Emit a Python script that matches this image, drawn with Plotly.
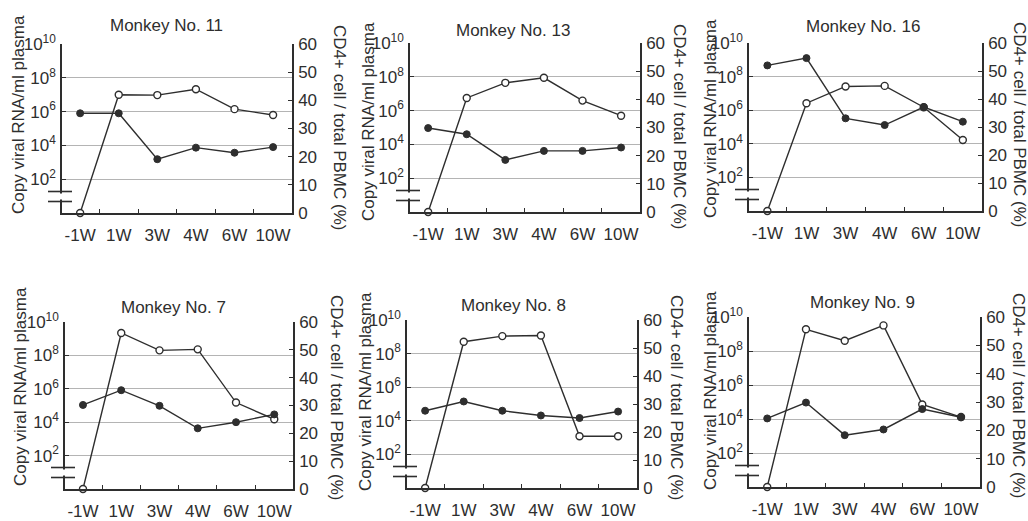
import plotly.graph_objects as go

W, H = 1028, 521

weeks = ["-1W", "1W", "3W", "4W", "6W", "10W"]
monkeys = ["Monkey No. 11", "Monkey No. 13", "Monkey No. 16",
           "Monkey No. 7", "Monkey No. 8", "Monkey No. 9"]

# viral RNA copies / ml plasma (open circles, left log axis); -1W below detection
m11_rna = [1, 1.0e7, 9.5e6, 2.1e7, 1.4e6, 6.3e5]
m13_rna = [1, 5.6e6, 4.4e7, 8.7e7, 3.9e6, 5.0e5]
m16_rna = [1, 2.6e6, 2.6e7, 2.8e7, 1.5e6, 1.7e4]
m7_rna = [1, 2.2e9, 2.0e8, 2.3e8, 1.5e5, 1.5e4]
m8_rna = [1, 5.1e8, 1.1e9, 1.2e9, 1.2e3, 1.2e3]
m9_rna = [1, 1.9e9, 4.0e8, 3.2e9, 7.2e4, 1.3e4]

# CD4+ cell / total PBMC (%) (filled circles, right axis)
m11_cd4 = [35.4, 35.4, 19.1, 23.2, 21.4, 23.4]
m13_cd4 = [29.8, 27.6, 18.5, 21.7, 21.7, 22.9]
m16_cd4 = [52.0, 54.6, 33.1, 30.7, 37.1, 31.9]
m7_cd4 = [30.2, 35.5, 29.9, 21.8, 24.0, 26.8]
m8_cd4 = [27.6, 30.9, 27.6, 25.9, 25.0, 27.3]
m9_cd4 = [24.2, 29.8, 18.3, 20.3, 27.5, 24.6]

rna_list = [m11_rna, m13_rna, m16_rna, m7_rna, m8_rna, m9_rna]
cd4_list = [m11_cd4, m13_cd4, m16_cd4, m7_cd4, m8_cd4, m9_cd4]

log_ticks = [1e2, 1e4, 1e6, 1e8, 1e10]
log_ticktext = ["10<sup>2</sup>", "10<sup>4</sup>", "10<sup>6</sup>",
                "10<sup>8</sup>", "10<sup>10</sup>"]
pct_ticks = [0, 10, 20, 30, 40, 50, 60]

# plot-area boxes in pixels (x0, x1, ytop, ybottom)
boxes = [(62, 292, 44, 213), (410, 640, 43, 212), (749, 982, 43, 211),
         (65, 293, 322, 489), (407, 637, 320, 488), (749, 980, 317, 487)]
title_pos = [(166, 25), (513, 30), (863, 27), (173, 307), (513, 305), (862, 302)]
ltitle_pos = [(18, 115), (368, 122), (710, 119), (20, 387), (365, 392), (710, 391)]
rtitle_pos = [(340, 127), (680, 126), (1019, 124), (337, 397), (677, 397), (1019, 395)]

INK = "#2e2e2e"
GRID = "#b4b4b4"
FONT = "Liberation Sans, Arial, sans-serif"
FS = 17

def px(x):
    return x / W

def py(y):
    return 1 - y / H

fig = go.Figure()
layout = {}
annotations = []
shapes = []

for i in range(6):
    x0, x1, yt, yb = boxes[i]
    xa = "x" if i == 0 else f"x{i+1}"
    xkey = "xaxis" if i == 0 else f"xaxis{i+1}"
    li = 2 * i + 1
    ri = 2 * i + 2
    ylname = "y" if li == 1 else f"y{li}"
    yrname = f"y{ri}"
    ylkey = "yaxis" if li == 1 else f"yaxis{li}"
    yrkey = f"yaxis{ri}"

    fig.add_trace(go.Scatter(
        x=weeks, y=rna_list[i], xaxis=xa, yaxis=ylname, mode="lines+markers",
        line=dict(color=INK, width=1.4),
        marker=dict(symbol="circle", size=7, color="white",
                    line=dict(color=INK, width=1.4)),
        cliponaxis=False, showlegend=False, name="viral RNA"))
    fig.add_trace(go.Scatter(
        x=weeks, y=cd4_list[i], xaxis=xa, yaxis=yrname, mode="lines+markers",
        line=dict(color=INK, width=1.4),
        marker=dict(symbol="circle", size=7, color=INK,
                    line=dict(color=INK, width=1)),
        cliponaxis=False, showlegend=False, name="CD4+"))

    layout[xkey] = dict(
        domain=[px(x0), px(x1)], anchor=ylname, type="category",
        categoryorder="array", categoryarray=weeks, range=[-0.47, 5.49],
        tickson="boundaries", ticks="inside", ticklen=4, tickcolor=INK,
        showline=True, linecolor=INK, linewidth=1.5, showgrid=False,
        zeroline=False, ticklabelstandoff=6, tickangle=0, automargin=False,
        tickfont=dict(family=FONT, size=FS, color=INK))
    layout[ylkey] = dict(
        domain=[py(yb), py(yt)], anchor=xa, type="log", range=[0, 10],
        tickvals=log_ticks, ticktext=log_ticktext, ticks="inside", ticklen=4,
        tickcolor=INK, showline=True, linecolor=INK, linewidth=1.5,
        showgrid=True, gridcolor=GRID, gridwidth=1, zeroline=False,
        ticklabelstandoff=1, automargin=False,
        tickfont=dict(family=FONT, size=FS, color=INK))
    layout[yrkey] = dict(
        domain=[py(yb), py(yt)], anchor=xa, overlaying=ylname, side="right",
        range=[0, 60], tickvals=pct_ticks, ticks="inside", ticklen=4,
        tickcolor=INK, showline=True, linecolor=INK, linewidth=1.5,
        showgrid=False, zeroline=False, ticklabelstandoff=1, automargin=False,
        tickfont=dict(family=FONT, size=FS, color=INK))

    # axis break on the left axis
    hpx = yb - yt
    wpx = x1 - x0
    ub = 21.5 / hpx
    lb = 11.5 / hpx
    shapes.append(dict(type="line", xref=f"{xa} domain", yref=f"{ylname} domain",
                       x0=-0.003, x1=-0.003, y0=lb + 0.012, y1=ub - 0.012,
                       line=dict(color="white", width=5), layer="above"))
    for yy in (ub, lb):
        shapes.append(dict(type="line", xref=f"{xa} domain", yref=f"{ylname} domain",
                           x0=-14 / wpx, x1=10 / wpx, y0=yy, y1=yy,
                           line=dict(color=INK, width=1.6), layer="above"))

    tx, ty = title_pos[i]
    annotations.append(dict(text=monkeys[i], x=px(tx), y=py(ty), xref="paper",
                            yref="paper", showarrow=False, xanchor="center",
                            yanchor="middle",
                            font=dict(family=FONT, size=FS, color=INK)))
    lx, ly = ltitle_pos[i]
    annotations.append(dict(text="Copy viral RNA/ml plasma", x=px(lx), y=py(ly),
                            xref="paper", yref="paper", showarrow=False,
                            textangle=-90, xanchor="center", yanchor="middle",
                            font=dict(family=FONT, size=FS, color=INK)))
    rx, ry = rtitle_pos[i]
    annotations.append(dict(text="CD4+ cell / total PBMC (%)", x=px(rx), y=py(ry),
                            xref="paper", yref="paper", showarrow=False,
                            textangle=90, xanchor="center", yanchor="middle",
                            font=dict(family=FONT, size=FS, color=INK)))

fig.update_layout(
    width=W, height=H, margin=dict(l=0, r=0, t=0, b=0, autoexpand=False),
    paper_bgcolor="white", plot_bgcolor="white",
    annotations=annotations, shapes=shapes, showlegend=False,
    font=dict(family=FONT, size=FS, color=INK),
    **layout)

fig.write_html("out.html", config={"displayModeBar": False},
               post_script="document.body.style.margin='0';document.body.style.overflow='hidden';")
